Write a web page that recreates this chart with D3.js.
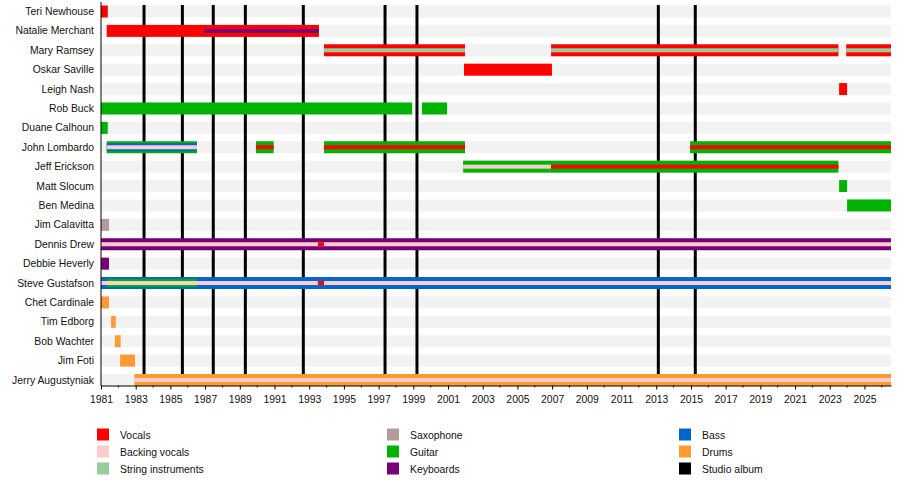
<!DOCTYPE html>
<html>
<head>
<meta charset="utf-8">
<title>Band timeline</title>
<script src="https://d3js.org/d3.v7.min.js"></script>
<style>
  body { margin: 0; background: #fff; }
  text { font-family: "Liberation Sans", Arial, sans-serif; }
</style>
</head>
<body>
<script>
var END = 2026.53;

var members = ["Teri Newhouse", "Natalie Merchant", "Mary Ramsey", "Oskar Saville", "Leigh Nash",
    "Rob Buck", "Duane Calhoun", "John Lombardo", "Jeff Erickson", "Matt Slocum", "Ben Medina",
    "Jim Calavitta", "Dennis Drew", "Debbie Heverly", "Steve Gustafson", "Chet Cardinale",
    "Tim Edborg", "Bob Wachter", "Jim Foti", "Jerry Augustyniak"];

var roles = ["Vocals", "Backing vocals", "String instruments", "Saxophone", "Guitar", "Keyboards",
    "Bass", "Drums", "Studio album"];
var roleColors = ["#ff0000", "#ffcccc", "#99cc99", "#b39b9b", "#00b300", "#770077",
    "#0066cc", "#ff9933", "#000000"];

// member, from, to, role, tier (0 = main bar, 1 = second, 2 = third)
var bars = [
    ["Teri Newhouse", 1981, 1981.39, "Vocals", 0],
    ["Natalie Merchant", 1981.33, 1993.56, "Vocals", 0],
    ["Natalie Merchant", 1986.94, 1993.56, "Keyboards", 2],
    ["Mary Ramsey", 1993.85, 2001.98, "Vocals", 0],
    ["Mary Ramsey", 1993.85, 2001.98, "String instruments", 2],
    ["Mary Ramsey", 2006.94, 2023.5, "Vocals", 0],
    ["Mary Ramsey", 2006.94, 2023.5, "String instruments", 2],
    ["Mary Ramsey", 2023.95, END, "Vocals", 0],
    ["Mary Ramsey", 2023.95, END, "String instruments", 2],
    ["Oskar Saville", 2001.92, 2006.99, "Vocals", 0],
    ["Leigh Nash", 2023.54, 2024.0, "Vocals", 0],
    ["Rob Buck", 1981, 1998.93, "Guitar", 0],
    ["Rob Buck", 1999.5, 2000.94, "Guitar", 0],
    ["Duane Calhoun", 1981, 1981.39, "Guitar", 0],
    ["John Lombardo", 1981.33, 1986.53, "Guitar", 0],
    ["John Lombardo", 1981.33, 1986.53, "Bass", 1],
    ["John Lombardo", 1981.33, 1986.53, "Backing vocals", 2],
    ["John Lombardo", 1989.93, 1990.95, "Guitar", 0],
    ["John Lombardo", 1989.93, 1990.95, "Vocals", 2],
    ["John Lombardo", 1993.85, 2001.98, "Guitar", 0],
    ["John Lombardo", 1993.85, 2001.98, "Vocals", 2],
    ["John Lombardo", 2014.95, END, "Guitar", 0],
    ["John Lombardo", 2014.95, END, "Vocals", 2],
    ["Jeff Erickson", 2001.87, 2023.5, "Guitar", 0],
    ["Jeff Erickson", 2001.87, 2006.94, "Backing vocals", 2],
    ["Jeff Erickson", 2006.94, 2023.5, "Vocals", 2],
    ["Matt Slocum", 2023.54, 2024.0, "Guitar", 0],
    ["Ben Medina", 2024.0, END, "Guitar", 0],
    ["Jim Calavitta", 1981, 1981.46, "Saxophone", 0],
    ["Dennis Drew", 1981, END, "Keyboards", 0],
    ["Dennis Drew", 1981, END, "Backing vocals", 2],
    ["Dennis Drew", 1993.5, 1993.85, "Vocals", 2],
    ["Debbie Heverly", 1981, 1981.46, "Keyboards", 0],
    ["Steve Gustafson", 1981, END, "Bass", 0],
    ["Steve Gustafson", 1981.33, 1986.53, "Guitar", 1],
    ["Steve Gustafson", 1981, END, "Backing vocals", 2],
    ["Steve Gustafson", 1993.5, 1993.85, "Vocals", 2],
    ["Chet Cardinale", 1981, 1981.46, "Drums", 0],
    ["Tim Edborg", 1981.58, 1981.85, "Drums", 0],
    ["Bob Wachter", 1981.8, 1982.13, "Drums", 0],
    ["Jim Foti", 1982.1, 1982.96, "Drums", 0],
    ["Jerry Augustyniak", 1982.93, END, "Drums", 0],
    ["Jerry Augustyniak", 1982.93, END, "Backing vocals", 2]
];

var albums = [1983.48, 1985.69, 1987.47, 1989.32, 1992.66, 1997.37, 1999.21, 2013.12, 2015.25];

var tickYears = d3.range(1981, 2026, 2);
var minorYears = d3.range(1982, 2027, 2);

function draw() {
    var svg = d3.select("body").append("svg").attr("width", 900).attr("height", 480);

    var x = d3.scaleLinear().domain([1981, END]).range([101, 891]);
    var y = d3.scalePoint().domain(members).range([11.5, 380]);
    var color = d3.scaleOrdinal().domain(roles).range(roleColors);
    var tierH = [12, 8, 4];

    // row backgrounds
    svg.append("g").selectAll("rect").data(members).enter().append("rect")
        .attr("x", x(1981)).attr("y", function(d) { return y(d) - 6; })
        .attr("width", x(END) - x(1981)).attr("height", 12)
        .attr("fill", "#f2f2f2");

    // studio albums
    svg.append("g").selectAll("line").data(albums).enter().append("line")
        .attr("x1", function(d) { return x(d); }).attr("x2", function(d) { return x(d); })
        .attr("y1", 5).attr("y2", 385)
        .attr("stroke", "#000").attr("stroke-width", 3);

    // member bars
    svg.append("g").selectAll("rect").data(bars).enter().append("rect")
        .attr("x", function(d) { return x(d[1]); })
        .attr("y", function(d) { return y(d[0]) - tierH[d[4]] / 2; })
        .attr("width", function(d) { return x(d[2]) - x(d[1]); })
        .attr("height", function(d) { return tierH[d[4]]; })
        .attr("fill", function(d) { return color(d[3]); });

    // names
    svg.append("g").selectAll("text").data(members).enter().append("text")
        .attr("x", 94).attr("y", function(d) { return y(d) + 3.6; })
        .attr("text-anchor", "end").attr("font-size", "10.4px").attr("fill", "#111")
        .text(function(d) { return d; });

    // left line
    svg.append("line").attr("x1", 101).attr("x2", 101).attr("y1", 2).attr("y2", 386)
        .attr("stroke", "#000").attr("stroke-width", 1);

    // x axis
    var axis = svg.append("g").attr("transform", "translate(0,385.5)")
        .call(d3.axisBottom(x).tickValues(tickYears).tickFormat(d3.format("d"))
            .tickSize(4).tickPadding(6).tickSizeOuter(0));
    axis.select(".domain").attr("stroke", "#000");
    axis.selectAll("text").attr("font-size", "10.4px").attr("fill", "#111")
        .attr("font-family", "Liberation Sans, Arial, sans-serif");
    svg.append("g").attr("transform", "translate(0,385.5)").selectAll("line")
        .data(minorYears).enter().append("line")
        .attr("x1", function(d) { return x(d); }).attr("x2", function(d) { return x(d); })
        .attr("y1", 0).attr("y2", 2).attr("stroke", "#000");

    // legend
    var colX = [97, 387, 679];
    var leg = svg.append("g").selectAll("g").data(roles).enter().append("g")
        .attr("transform", function(d, i) {
            return "translate(" + colX[Math.floor(i / 3)] + "," + (428.5 + (i % 3) * 17) + ")";
        });
    leg.append("rect").attr("width", 12).attr("height", 12)
        .attr("fill", function(d) { return color(d); });
    leg.append("text").attr("x", 23).attr("y", 10).attr("font-size", "10.4px").attr("fill", "#111")
        .text(function(d) { return d; });
}

draw();
</script>
</body>
</html>
